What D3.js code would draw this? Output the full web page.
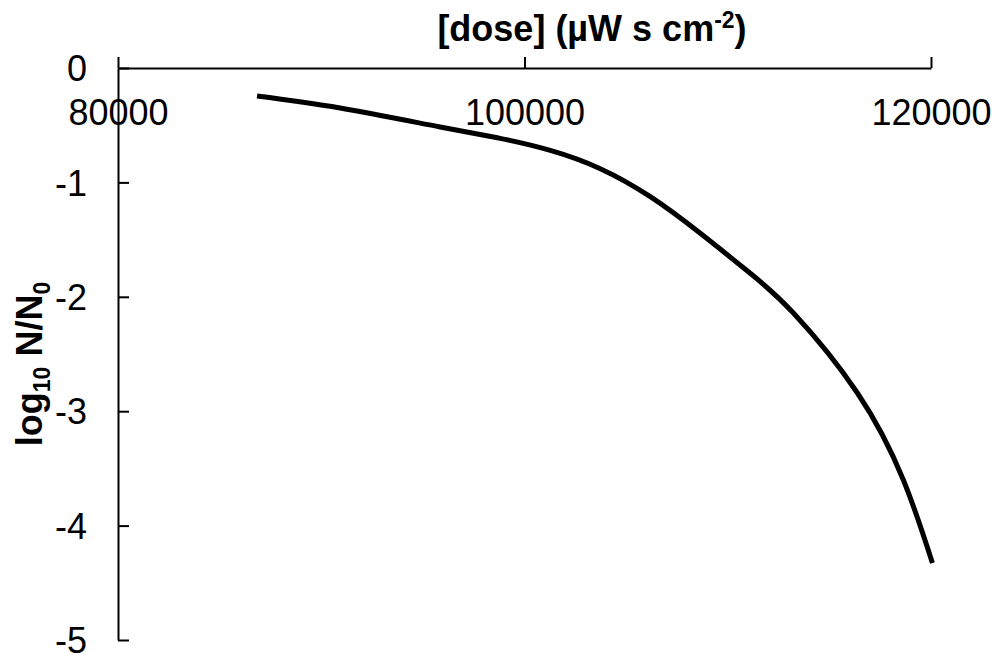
<!DOCTYPE html>
<html>
<head>
<meta charset="utf-8">
<script src="https://cdn.jsdelivr.net/npm/d3@7"></script>
<style>
  html, body { margin: 0; padding: 0; background: #fff; }
  svg { display: block; }
  text { font-family: "Liberation Sans", Arial, sans-serif; fill: #000; }
</style>
</head>
<body>
<svg id="chart" width="997" height="653"></svg>
<script>
// Survival curve: dose (µW s cm-2) against log10 N/N0
const doses = [86840, 90930, 95850, 98800, 101270, 103730, 106190, 108650, 111110, 113230, 116380, 118640, 120070];
const logSurvival = [-0.245, -0.35, -0.516, -0.615, -0.72, -0.88, -1.125, -1.445, -1.795, -2.142, -2.841, -3.601, -4.327];

const xTicks = [80000, 100000, 120000];
const yTicks = [0, -1, -2, -3, -4, -5];

const svg = d3.select("#chart");

const x = d3.scaleLinear().domain([80000, 120000]).range([118, 931]);
const y = d3.scaleLinear().domain([0, -5]).range([68, 640]);

// x axis along y = 0, ticks pointing up, labels below the line
const xAxis = svg.append("g")
  .attr("transform", `translate(0,${y(0)})`)
  .call(d3.axisTop(x).tickValues(xTicks).tickSize(11).tickSizeOuter(0).tickFormat(d3.format("d")));
xAxis.select(".domain").attr("stroke", "#000").attr("stroke-width", 2);
xAxis.selectAll(".tick line").attr("stroke", "#000").attr("stroke-width", 2);
xAxis.selectAll(".tick text")
  .attr("y", 57).attr("dy", 0)
  .attr("font-size", 36)
  .attr("font-family", "Liberation Sans, Arial, sans-serif");

// y axis at x = 80000, ticks pointing right, labels on the left
const yAxis = svg.append("g")
  .attr("transform", `translate(${x(80000)},0)`)
  .call(d3.axisRight(y).tickValues(yTicks).tickSize(11).tickSizeOuter(0).tickFormat(d3.format("d")));
yAxis.select(".domain").attr("stroke", "#000").attr("stroke-width", 2);
yAxis.selectAll(".tick line").attr("stroke", "#000").attr("stroke-width", 2);
yAxis.selectAll(".tick text")
  .attr("x", -31).attr("dy", "0.35em")
  .attr("text-anchor", "end")
  .attr("font-size", 36)
  .attr("font-family", "Liberation Sans, Arial, sans-serif")
  .text(d => d === 0 ? "0" : "-" + Math.abs(d));

// curve
const line = d3.line()
  .x((d, i) => x(doses[i]))
  .y(d => y(d))
  .curve(d3.curveNatural);

svg.append("path")
  .datum(logSurvival)
  .attr("d", line)
  .attr("fill", "none")
  .attr("stroke", "#000")
  .attr("stroke-width", 5)
  .attr("stroke-linejoin", "round");

// axis titles
const xTitle = svg.append("text")
  .attr("x", 592).attr("y", 41)
  .attr("text-anchor", "middle")
  .attr("font-size", 36)
  .attr("font-weight", "bold");
xTitle.append("tspan").text("[dose] (µW s cm");
xTitle.append("tspan").attr("font-size", 23).attr("dy", -13).text("-2");
xTitle.append("tspan").attr("dy", 13).text(")");

const yTitle = svg.append("text")
  .attr("transform", "translate(42,364) rotate(-90)")
  .attr("text-anchor", "middle")
  .attr("font-size", 36)
  .attr("font-weight", "bold");
yTitle.append("tspan").text("log");
yTitle.append("tspan").attr("font-size", 23).attr("dy", 8).text("10");
yTitle.append("tspan").attr("dy", -8).text(" N/N");
yTitle.append("tspan").attr("font-size", 23).attr("dy", 8).text("0");
</script>
</body>
</html>
